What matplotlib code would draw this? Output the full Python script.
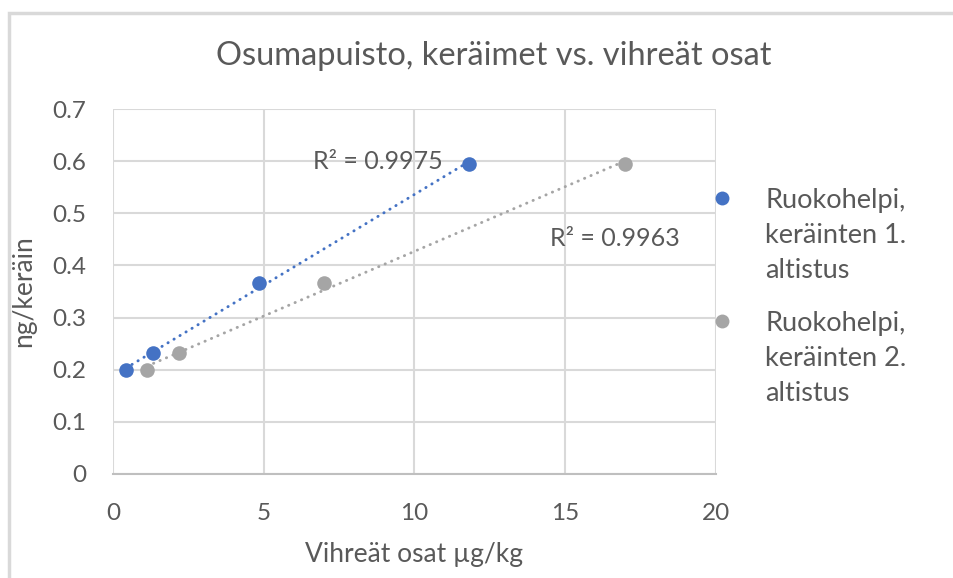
import numpy as np
import matplotlib.pyplot as plt
from matplotlib.lines import Line2D
from matplotlib.patches import Rectangle

plt.rcParams['font.family'] = ['Lato', 'DejaVu Sans']

# Data
x_1 = [0.43, 1.33, 4.84, 11.8]
y_1 = [0.199, 0.232, 0.367, 0.595]
x_2 = [1.13, 2.19, 7.0, 16.98]
y_2 = [0.199, 0.232, 0.367, 0.595]

label_1 = ['Ruokohelpi,', 'keräinten 1.', 'altistus']
label_2 = ['Ruokohelpi,', 'keräinten 2.', 'altistus']
r2_1 = 'R² = 0.9975'
r2_2 = 'R² = 0.9963'

blue = '#4472C4'
grey = '#A5A5A5'
txt = '#595959'

fig = plt.figure(figsize=(9.54, 5.78), dpi=100)
ax = fig.add_axes([113/954, 1-474/578, (716-113)/954, (474-109)/578])

# outer chart border
fig.add_artist(Rectangle((9/954, -0.1), 1.2, 1 - 13/578 + 0.1, transform=fig.transFigure,
                         fill=False, edgecolor='#d9d9d9', lw=2.5))

# trendlines (linear fit, drawn over data range)
for xs, ys, c in [(x_1, y_1, blue), (x_2, y_2, grey)]:
    k, b = np.polyfit(xs, ys, 1)
    xx = np.array([min(xs), max(xs)])
    ax.plot(xx, k * xx + b, color=c, lw=2.1, linestyle=(0, (0.1, 2.3)),
            dash_capstyle='round', zorder=2)

ax.scatter(x_1, y_1, s=110, color=blue, zorder=3, linewidths=0)
ax.scatter(x_2, y_2, s=110, color=grey, zorder=3, linewidths=0)

ax.text(10.95, 0.6, r2_1, fontsize=18, color=txt, ha='right', va='center')
ax.text(14.5, 0.4525, r2_2, fontsize=18, color=txt, ha='left', va='center')

ax.set_xlim(0, 20)
ax.set_ylim(0, 0.7)
ax.set_xticks([0, 5, 10, 15, 20])
ax.set_yticks(np.arange(0, 0.71, 0.1))
ax.set_yticklabels(['0', '0.1', '0.2', '0.3', '0.4', '0.5', '0.6', '0.7'])
ax.grid(True, color='#d9d9d9', lw=1.5)
ax.set_axisbelow(True)
for s in ['top', 'right', 'left']:
    ax.spines[s].set_visible(False)
ax.spines['bottom'].set_color('#bfbfbf')
ax.spines['bottom'].set_linewidth(1.5)
ax.tick_params(length=0, labelsize=17.5, colors=txt)
ax.tick_params(axis='y', pad=19)
ax.tick_params(axis='x', pad=21)

ax.set_xlabel('Vihreät osat µg/kg', fontsize=19, color=txt, labelpad=13)
ax.set_ylabel('ng/keräin', fontsize=19, color=txt, labelpad=12)
fig.text(494/954, 1 - 56/578, 'Osumapuisto, keräimet vs. vihreät osat',
         fontsize=23.5, color=txt, ha='center', va='center')

# legend, markers aligned to the first line of each entry
for yp, c, lines in [(198, blue, label_1), (321, grey, label_2)]:
    fig.add_artist(Line2D([722/954], [1 - yp/578], marker='o', markersize=10,
                          color=c, markeredgewidth=0, transform=fig.transFigure))
    for i, line in enumerate(lines):
        fig.text(765/954, 1 - (yp + i * 35)/578, line, fontsize=19.5, color=txt,
                 ha='left', va='center_baseline')

fig.savefig('out.png', dpi=100)
